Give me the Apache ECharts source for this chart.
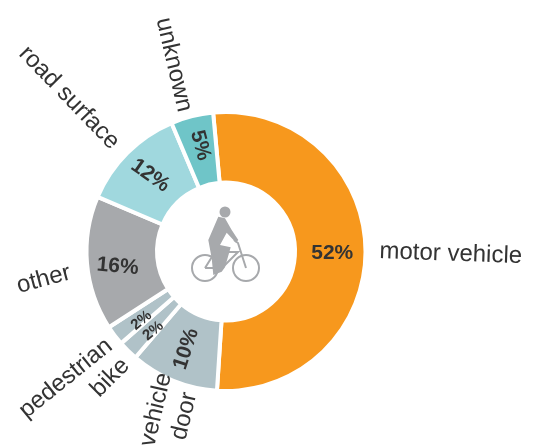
<!DOCTYPE html>
<html>
<head>
<meta charset="utf-8">
<style>html,body{margin:0;padding:0;background:#fff}#chart{width:537px;height:447px}</style>
<script src="https://cdn.jsdelivr.net/npm/echarts@6/dist/echarts.min.js"></script>
</head>
<body>
<div id="chart"></div>
<script>
var categories = ['motor vehicle', 'vehicle\ndoor', 'bike', 'pedestrian', 'other', 'road surface', 'unknown'];
var shares = [52.4, 10.2, 2.3, 2.3, 15.5, 12.2, 4.9];
var shareLabels = ['52%', '10%', '2%', '2%', '16%', '12%', '5%'];
var colors = ['#f7981d', '#b0c2c8', '#b0c2c8', '#b0c2c8', '#a7a9ac', '#a0d8de', '#6fc5c8'];
var shareRotate = [0, 72, 40, 40, 355, 325, 285];
var shareSize = [21, 21, 15, 15, 21, 21, 21];
var shareShift = [[-1, 3], [2, 0], [0, 4], [-2, 4], [-1, 6], [0, 0], [-2, -1]];
var nameRotate = [-2, 77, 45, 39, 15, -46, -77];
var nameGap = [9, 7, 10, 10, 14, 10, 12];
var nameShift = [[0, 2], [-24, 10], [4, 10], [5, 6], [0, 8], [0, 0], [7, 1]];

var center = [226, 251.5];
var font = 'Liberation Sans';

var myChart = echarts.init(document.getElementById('chart'));
myChart.setOption({
	animation: false,
	series: [{
		type: 'pie',
		center: center,
		radius: [69, 139.5],
		startAngle: 95.3,
		clockwise: true,
		silent: true,
		avoidLabelOverlap: false,
		labelLayout: function (params) {
			return { dx: shareShift[params.dataIndex][0], dy: shareShift[params.dataIndex][1], hideOverlap: false };
		},
		itemStyle: { borderColor: '#fff', borderWidth: 4 },
		labelLine: { show: false },
		data: shares.map(function (v, i) {
			return {
				value: v,
				name: categories[i],
				itemStyle: { color: colors[i] },
				label: {
					show: true,
					position: 'inside',
					formatter: shareLabels[i],
					rotate: shareRotate[i],
					color: '#333',
					fontFamily: font,
					fontWeight: 'bold',
					fontSize: shareSize[i]
				}
			};
		})
	}, {
		// 外圈文字
		type: 'pie',
		center: center,
		radius: [69, 139.5],
		startAngle: 95.3,
		clockwise: true,
		silent: true,
		avoidLabelOverlap: false,
		labelLayout: function (params) {
			var layout = { dx: nameShift[params.dataIndex][0], dy: nameShift[params.dataIndex][1], hideOverlap: false };
			// vehicle door 两行居中
			if (params.dataIndex === 1) {
				layout.align = 'center';
			}
			return layout;
		},
		itemStyle: { color: 'transparent' },
		data: shares.map(function (v, i) {
			return {
				value: v,
				name: categories[i],
				label: {
					show: true,
					position: 'outside',
					formatter: '{b}',
					rotate: nameRotate[i],
					color: '#333',
					fontFamily: font,
					fontSize: 24,
					lineHeight: 29,
					width: 240,
					overflow: 'none'
				},
				labelLine: { show: true, length: nameGap[i], length2: 0, lineStyle: { color: 'transparent' } }
			};
		})
	}],
	// 中间的骑车人图标
	graphic: [{
		type: 'group',
		x: 225,
		y: 244,
		silent: true,
		children: [
			{ type: 'circle', shape: { cx: 0, cy: -32, r: 5.5 }, style: { fill: '#a7a9ac' } },
			{ type: 'polygon', shape: { points: [[-6.7, -27.3], [0, -25.7], [6.7, -14], [13.3, -4], [11, -1.3], [1.7, -11.3], [-5, 1], [5.7, 3.3], [0, 23.3], [-3.3, 27.7], [-11.7, 31], [-13.3, 14.3], [-16.7, -4]] }, style: { fill: '#a7a9ac' } },
			{ type: 'circle', shape: { cx: -20, cy: 24, r: 13 }, style: { fill: 'none', stroke: '#a7a9ac', lineWidth: 2 } },
			{ type: 'circle', shape: { cx: 21, cy: 24, r: 13 }, style: { fill: 'none', stroke: '#a7a9ac', lineWidth: 2 } },
			{ type: 'polyline', shape: { points: [[-20, 24], [-10, 8], [13, 8], [-3, 24], [-20, 24]] }, style: { fill: 'none', stroke: '#a7a9ac', lineWidth: 2 } },
			{ type: 'polyline', shape: { points: [[21, 24], [13, -1], [9, -4]] }, style: { fill: 'none', stroke: '#a7a9ac', lineWidth: 2 } }
		]
	}]
});
</script>
</body>
</html>
